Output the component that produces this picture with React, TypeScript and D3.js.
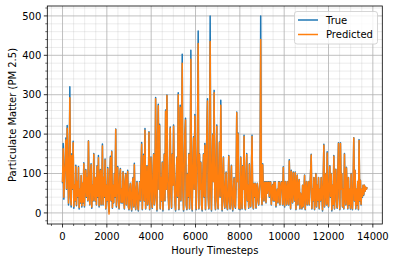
import React from "react";
import * as d3 from "d3";

const STEP = 30;
const trueValues: number[] = [
  75, 176, 35, 100, 130, 190, 60, 222, 140, 20,
  90, 320, 40, 15, 150, 60, 182, 12, 70, 30,
  121, 18, 80, 40, 118, 10, 60, 25, 95, 15,
  75, 25, 127, 15, 80, 110, 40, 90, 30, 183,
  60, 20, 100, 125, 12, 70, 30, 151, 50, 30,
  90, 20, 120, 40, 146, 15, 80, 110, 20, 60,
  175, 20, 90, 40, 137, 10, 70, 30, 115, 25,
  3, 90, 144, 30, 157, 12, 70, 25, 100, 40,
  213, 15, 80, 118, 30, 10, 90, 113, 25, 60,
  25, 105, 40, 10, 80, 100, 20, 70, 108, 15,
  8, 60, 75, 20, 5, 70, 90, 15, 126, 30,
  8, 60, 80, 20, 5, 50, 79, 30, 110, 179,
  8, 80, 149, 30, 214, 10, 60, 120, 20, 40,
  206, 8, 90, 142, 30, 12, 100, 150, 20, 60,
  293, 40, 5, 200, 276, 60, 225, 10, 90, 30,
  129, 5, 80, 150, 30, 261, 60, 299, 100, 40,
  8, 120, 218, 50, 12, 150, 70, 223, 100, 30,
  5, 90, 142, 40, 305, 8, 120, 273, 30, 180,
  403, 60, 5, 120, 200, 240, 20, 8, 100, 40,
  151, 10, 90, 413, 40, 5, 120, 193, 60, 250,
  120, 8, 80, 200, 462, 10, 150, 60, 129, 20,
  5, 90, 150, 40, 176, 8, 120, 200, 290, 40,
  10, 100, 500, 60, 5, 120, 200, 80, 311, 40,
  8, 120, 223, 30, 10, 100, 180, 40, 286, 100,
  5, 80, 142, 30, 12, 70, 104, 20, 8, 60,
  146, 30, 10, 80, 121, 20, 5, 60, 90, 20,
  12, 70, 256, 80, 203, 10, 60, 8, 142, 40,
  10, 120, 60, 197, 20, 8, 90, 151, 30, 70,
  12, 125, 40, 15, 100, 197, 30, 10, 75, 40,
  75, 12, 60, 75, 30, 20, 60, 80, 500, 60,
  20, 125, 50, 30, 79, 79, 25, 79, 50, 79,
  79, 40, 79, 79, 20, 60, 72, 30, 79, 30,
  79, 15, 40, 60, 25, 79, 79, 20, 60, 79,
  79, 20, 117, 40, 15, 80, 60, 20, 80, 40,
  20, 135, 60, 10, 108, 50, 25, 104, 60, 30,
  104, 8, 60, 96, 20, 70, 85, 10, 50, 30,
  10, 70, 15, 50, 96, 8, 60, 80, 20, 50,
  80, 20, 60, 100, 149, 10, 60, 30, 90, 8,
  60, 100, 15, 70, 30, 90, 10, 60, 30, 90,
  50, 5, 80, 174, 15, 60, 100, 20, 155, 30,
  15, 80, 120, 40, 100, 5, 70, 20, 146, 10,
  80, 111, 30, 12, 100, 178, 40, 8, 178, 60,
  100, 15, 60, 10, 151, 40, 20, 116, 50, 10,
  90, 20, 60, 10, 100, 30, 8, 70, 191, 30,
  108, 10, 60, 20, 80, 8, 186, 30, 83, 20,
  60, 40, 70, 45, 70, 55, 65, 60, 65,
];
const predictedValues: number[] = [
  78, 163, 40, 98, 125, 185, 62, 215, 136, 25,
  92, 292, 42, 20, 146, 62, 178, 16, 70, 32,
  118, 21, 80, 42, 115, 14, 60, 28, 95, 18,
  75, 28, 125, 18, 80, 108, 42, 90, 32, 182,
  60, 22, 99, 122, 15, 70, 32, 149, 50, 32,
  90, 22, 118, 42, 140, 18, 80, 108, 22, 60,
  170, 22, 90, 42, 134, 12, 70, 32, 112, 27,
  -3, 90, 140, 32, 155, 14, 70, 27, 98, 42,
  212, 18, 80, 115, 32, 12, 90, 110, 27, 60,
  27, 103, 42, 12, 80, 98, 22, 70, 105, 17,
  10, 60, 74, 22, 8, 70, 88, 17, 122, 32,
  10, 60, 78, 22, 8, 50, 77, 32, 108, 174,
  10, 80, 145, 32, 210, 12, 60, 118, 22, 42,
  204, 10, 90, 140, 32, 14, 98, 148, 22, 60,
  290, 42, 8, 198, 272, 60, 222, 12, 90, 32,
  127, 8, 80, 148, 32, 258, 60, 298, 98, 42,
  10, 118, 215, 50, 14, 148, 70, 220, 98, 32,
  8, 90, 140, 42, 300, 10, 118, 268, 32, 178,
  380, 60, 8, 118, 198, 236, 22, 10, 98, 42,
  149, 12, 90, 390, 42, 8, 118, 190, 60, 246,
  118, 10, 80, 198, 430, 12, 148, 60, 127, 22,
  8, 90, 148, 42, 172, 10, 118, 198, 284, 42,
  12, 98, 435, 60, 8, 118, 198, 80, 305, 42,
  10, 118, 220, 32, 12, 98, 178, 42, 273, 98,
  8, 80, 140, 32, 14, 70, 102, 22, 10, 60,
  144, 32, 12, 80, 119, 22, 8, 60, 88, 22,
  14, 70, 254, 80, 200, 12, 60, 10, 140, 42,
  12, 118, 60, 194, 22, 10, 88, 148, 32, 70,
  14, 123, 42, 17, 98, 194, 32, 12, 74, 42,
  74, 14, 60, 74, 32, 22, 60, 79, 440, 60,
  22, 122, 50, 32, 78, 78, 27, 78, 50, 78,
  78, 42, 78, 78, 22, 60, 71, 32, 78, 32,
  78, 18, 42, 60, 27, 78, 78, 22, 60, 78,
  78, 22, 115, 42, 18, 79, 60, 22, 79, 42,
  22, 132, 60, 12, 106, 50, 27, 102, 60, 32,
  102, 10, 60, 95, 22, 70, 84, 12, 50, 32,
  12, 70, 17, 50, 95, 10, 60, 79, 22, 50,
  79, 22, 60, 99, 147, 12, 60, 32, 89, 10,
  60, 99, 17, 70, 32, 89, 12, 60, 32, 89,
  50, 8, 80, 172, 17, 60, 99, 22, 152, 32,
  17, 80, 118, 42, 99, 8, 70, 22, 144, 12,
  80, 110, 32, 14, 99, 176, 42, 10, 176, 60,
  99, 17, 60, 12, 149, 42, 22, 114, 50, 12,
  89, 22, 60, 12, 99, 32, 10, 70, 190, 32,
  107, 12, 60, 22, 80, 10, 184, 32, 82, 22,
  60, 42, 70, 47, 70, 55, 65, 60, 65,
];
const timesteps: number[] = trueValues.map((_, i) => i * STEP);

const xMajorTicks = [0, 2000, 4000, 6000, 8000, 10000, 12000, 14000];
const yMajorTicks = [0, 100, 200, 300, 400, 500];
const seriesNames = ["True", "Predicted"];
const seriesColors = ["#1f77b4", "#ff7f0e"];

const W = 395;
const H = 262;
const L = 47.3;
const R = 382.3;
const T = 6;
const B = 224;

export default function App() {
  const xExt = d3.extent(timesteps) as [number, number];
  const xPad = (xExt[1] - xExt[0]) * 0.05;
  const allY = trueValues.concat(predictedValues);
  const yExt = d3.extent(allY) as [number, number];
  const yPad = (yExt[1] - yExt[0]) * 0.05;

  const x = d3.scaleLinear().domain([xExt[0] - xPad, xExt[1] + xPad]).range([L, R]);
  const y = d3.scaleLinear().domain([yExt[0] - yPad, yExt[1] + yPad]).range([B, T]);

  const xMinor = d3.range(-500, 14500, 500).filter((v) => x(v) >= L && x(v) <= R && !xMajorTicks.includes(v));
  const yMinor = d3.range(-20, 540, 20).filter((v) => y(v) >= T && y(v) <= B && !yMajorTicks.includes(v));

  const line = d3
    .line<number>()
    .x((_, i) => x(timesteps[i]))
    .y((d) => y(d));

  const font = "'DejaVu Sans', sans-serif";

  return (
    <svg
      width={W}
      height={H}
      style={{ position: "absolute", left: 0, top: 0, background: "#fff" }}
      fontFamily={font}
    >
      <defs>
        <clipPath id="plotclip">
          <rect x={L} y={T} width={R - L} height={B - T} />
        </clipPath>
      </defs>
      <rect x={0} y={0} width={W} height={H} fill="#fff" />
      {xMinor.map((v) => (
        <line key={"xm" + v} x1={x(v)} x2={x(v)} y1={T} y2={B} stroke="#b0b0b0" strokeOpacity={0.3} strokeWidth={0.8} />
      ))}
      {yMinor.map((v) => (
        <line key={"ym" + v} x1={L} x2={R} y1={y(v)} y2={y(v)} stroke="#b0b0b0" strokeOpacity={0.3} strokeWidth={0.8} />
      ))}
      {xMajorTicks.map((v) => (
        <line key={"xg" + v} x1={x(v)} x2={x(v)} y1={T} y2={B} stroke="#b0b0b0" strokeWidth={0.8} />
      ))}
      {yMajorTicks.map((v) => (
        <line key={"yg" + v} x1={L} x2={R} y1={y(v)} y2={y(v)} stroke="#b0b0b0" strokeWidth={0.8} />
      ))}
      <g clipPath="url(#plotclip)">
        <path d={line(trueValues) || ""} fill="none" stroke={seriesColors[0]} strokeWidth={1.5} strokeLinejoin="round" />
        <path d={line(predictedValues) || ""} fill="none" stroke={seriesColors[1]} strokeWidth={1.5} strokeLinejoin="round" />
      </g>
      <rect x={L} y={T} width={R - L} height={B - T} fill="none" stroke="#000" strokeWidth={0.8} />
      {xMajorTicks.map((v) => (
        <g key={"xt" + v}>
          <line x1={x(v)} x2={x(v)} y1={B} y2={B + 3.5} stroke="#000" strokeWidth={0.8} />
          <text x={x(v)} y={B + 15.5} fontSize={10} textAnchor="middle" fill="#000">
            {v}
          </text>
        </g>
      ))}
      {xMinor.map((v) => (
        <line key={"xmt" + v} x1={x(v)} x2={x(v)} y1={B} y2={B + 2} stroke="#000" strokeWidth={0.6} />
      ))}
      {yMajorTicks.map((v) => (
        <g key={"yt" + v}>
          <line x1={L - 3.5} x2={L} y1={y(v)} y2={y(v)} stroke="#000" strokeWidth={0.8} />
          <text x={L - 6} y={y(v) + 3.6} fontSize={10} textAnchor="end" fill="#000">
            {v}
          </text>
        </g>
      ))}
      {yMinor.map((v) => (
        <line key={"ymt" + v} x1={L - 2} x2={L} y1={y(v)} y2={y(v)} stroke="#000" strokeWidth={0.6} />
      ))}
      <text x={(L + R) / 2} y={254} fontSize={10} textAnchor="middle" fill="#000">
        Hourly Timesteps
      </text>
      <text
        transform={`translate(15.5, ${(T + B) / 2}) rotate(-90)`}
        fontSize={10}
        textAnchor="middle"
        fill="#000"
      >
        Particulate Matter (PM 2.5)
      </text>
      <rect x={294.5} y={11.5} width={83} height={32.5} rx={2.5} fill="#fff" fillOpacity={0.8} stroke="#cccccc" strokeWidth={0.8} />
      {seriesNames.map((name, i) => (
        <g key={name}>
          <line x1={298} x2={318} y1={20 + i * 14.5} y2={20 + i * 14.5} stroke={seriesColors[i]} strokeWidth={1.5} />
          <text x={326} y={23.6 + i * 14.5} fontSize={10} fill="#000">
            {name}
          </text>
        </g>
      ))}
    </svg>
  );
}
